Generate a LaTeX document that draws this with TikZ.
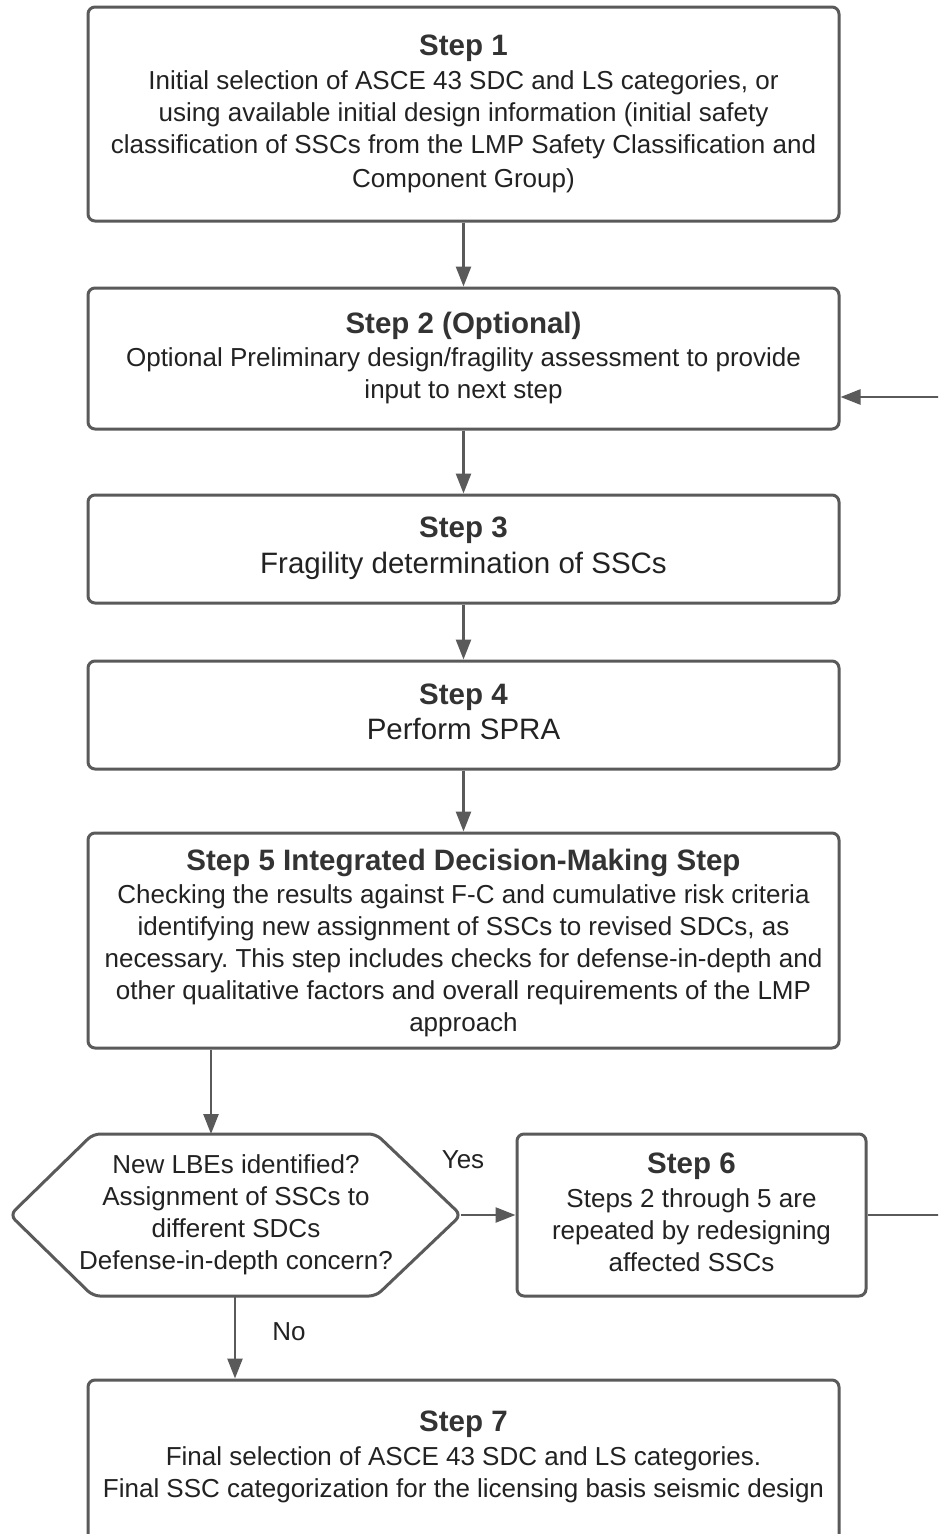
\documentclass[tikz,border=0pt]{standalone}
\usepackage{fontspec}
\setmainfont{Liberation Sans}
\usetikzlibrary{arrows.meta}
\definecolor{edge}{HTML}{5A5A5A}
\definecolor{ink}{HTML}{222222}
\definecolor{tink}{HTML}{333333}
\newcommand\steptitle{\fontsize{29.5}{32}\selectfont\bfseries\color{tink}}
\frenchspacing
\begin{document}
\begin{tikzpicture}[x=1pt,y=-1pt,
  stepbox/.style={draw=edge, line width=3pt, rounded corners=7pt, fill=white,
    inner sep=0pt, minimum width=751pt},
  txt/.style={align=center, inner sep=0pt, text=ink, font=\fontsize{26}{32}\selectfont},
  conn/.style={draw=edge, line width=2.5pt, -{Triangle[length=20pt,width=15pt]}},
  hexshape/.style={draw=edge, line width=3pt, rounded corners=7pt, fill=white}]
\useasboundingbox (0,0) rectangle (938,1534);
\clip (0,0) rectangle (938,1534);
\fill[white] (0,0) rectangle (938,1534);

% boxes
\node[stepbox, minimum height=214pt] (s1) at (463.5,114) {};
\node[stepbox, minimum height=141pt] (s2) at (463.5,358.5) {};
\node[stepbox, minimum height=108pt] (s3) at (463.5,549) {};
\node[stepbox, minimum height=108pt] (s4) at (463.5,715) {};
\node[stepbox, minimum height=215pt] (s5) at (463.5,940.5) {};
\node[stepbox, minimum width=349pt, minimum height=162pt] (s6) at (691.5,1215) {};
\node[stepbox, minimum height=190pt] (s7) at (463.5,1475) {};

% texts
\node[txt] (s1t) at (463.5,113.5)
 {{\steptitle Step 1}\\[2pt]Initial selection of ASCE 43 SDC and LS categories, or\\using available initial design information (initial safety\\classification of SSCs from the LMP Safety Classification and\\[2pt]Component Group)};
\node[txt] (s2t) at (463.5,358.5)
 {{\steptitle Step 2 (Optional)}\\[1pt]Optional Preliminary design/fragility assessment to provide\\input to next step};
\node[txt] (s3t) at (463.5,548)
 {{\steptitle Step 3}\\[4pt]{\fontsize{29.5}{36}\selectfont Fragility determination of SSCs}};
\node[txt] (s4t) at (463.5,711.5)
 {{\steptitle Step 4}\\[3pt]{\fontsize{29.5}{36}\selectfont Perform SPRA}};
\node[txt] (s5t) at (463.5,943)
 {{\steptitle Step 5 Integrated Decision-Making Step}\\[1pt]Checking the results against F-C and cumulative risk criteria\\identifying new assignment of SSCs to revised SDCs, as\\necessary. This step includes checks for defense-in-depth and\\other qualitative factors and overall requirements of the LMP\\approach};
\node[txt] (s6t) at (691.5,1212)
 {{\steptitle Step 6}\\[2pt]Steps 2 through 5 are\\repeated by redesigning\\affected SSCs};
\node[txt] (s7t) at (463.5,1457)
 {{\steptitle Step 7}\\[2pt]Final selection of ASCE 43 SDC and LS categories.\\Final SSC categorization for the licensing basis seismic design};

% decision hexagon
\coordinate (hxW) at (10,1215);
\coordinate (hxE) at (461,1215);
\coordinate (hxN) at (211,1134);
\coordinate (hxS) at (235,1296);
\draw[hexshape] (93,1134) -- (376,1134) -- (hxE) -- (376,1296) -- (93,1296) -- (hxW) -- cycle;
\node[txt] (hx) at (236,1214.5)
 {New LBEs identified?\\Assignment of SSCs to\\different SDCs\\Defense-in-depth concern?};

% connectors
\draw[conn] (s1) -- (s2);
\draw[conn] (s2) -- (s3);
\draw[conn] (s3) -- (s4);
\draw[conn] (s4) -- (s5);
\draw[conn] (s5.south -| hxN) -- (hxN);
\draw[conn] (hxE) -- (s6.west);
\draw[conn] (hxS) -- (hxS |- s7.north);
\coordinate (fb) at (960,1215);
\path (s2.east) ++(0,38.5) coordinate (s2in);
\draw[conn] (s6.east) -- (fb) |- (s2in);

\node[txt] (yes) at (463,1160) {Yes};
\node[txt] (no) at (289,1332) {No};
\end{tikzpicture}
\end{document}
